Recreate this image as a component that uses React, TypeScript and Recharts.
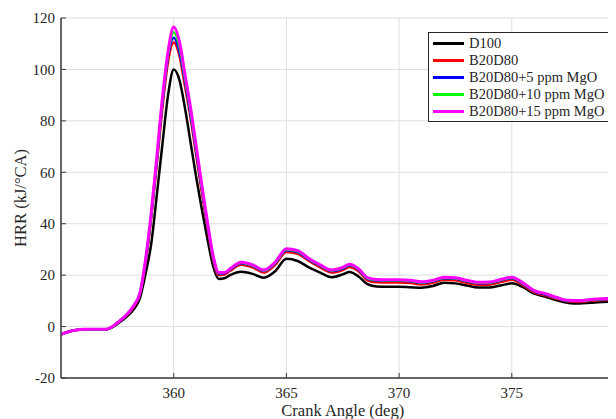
import React from 'react';
import { LineChart, Line, XAxis, YAxis, CartesianGrid, Legend } from 'recharts';

const crankAngle = [355, 355.5, 356, 356.5, 357, 357.5, 358, 358.25, 358.5, 358.75, 359, 359.25, 359.5, 359.75, 360, 360.25, 360.5, 360.75, 361, 361.25, 361.5, 361.75, 362, 362.25, 362.5, 363, 363.5, 364, 364.5, 365, 365.5, 366, 366.5, 367, 367.5, 367.8, 368.2, 368.6, 369, 369.5, 370, 370.5, 371, 371.5, 372, 372.5, 373, 373.5, 374, 374.5, 375, 375.5, 376, 376.5, 377, 377.5, 378, 378.5, 379, 379.5, 380];

const d100 = [-3, -1.6, -1.1, -1.1, -1.1, 1.0, 4.5, 7, 11, 20.5, 32, 51, 71, 90, 100, 96, 85, 71.5, 58, 45.5, 34, 23.5, 18.5, 18.8, 20, 21.3, 20.5, 19, 21.5, 26.4, 25.5, 23, 21, 19.2, 20.3, 21.2, 19.5, 16.5, 15.6, 15.5, 15.5, 15.3, 15.1, 15.8, 17, 16.8, 16, 15.2, 15.2, 16, 16.8, 15.3, 12.8, 11.6, 10.2, 9.2, 9, 9.3, 9.6, 9.7, 9.6];

const b20d80 = [-3, -1.6, -1.0, -1.0, -1.0, 1.3, 5.2, 8, 12.5, 24.5, 42, 63, 85, 103, 110.5, 105.5, 93.5, 81, 66.5, 52, 38.5, 26, 20, 20.2, 21.7, 24, 23, 21, 24, 29, 28.3, 25.5, 23, 21, 22, 23.2, 21.5, 18, 17.2, 17.1, 17.1, 16.9, 16.4, 17, 18.2, 18, 17, 16.3, 16.3, 17.3, 18.2, 16.1, 13.3, 12.1, 10.8, 9.8, 9.6, 10, 10.3, 10.4, 10.3];

const mgo5 = [-3, -1.6, -1.0, -1.0, -1.0, 1.4, 5.4, 8.3, 12.8, 25.3, 43, 64.5, 87, 105, 112.3, 107, 95.5, 82.5, 68, 53.5, 39.5, 26.8, 20.6, 20.7, 22.2, 24.6, 23.6, 21.6, 24.6, 29.7, 29, 26, 23.6, 21.6, 22.6, 23.8, 22.1, 18.6, 17.9, 17.8, 17.8, 17.6, 17, 17.6, 18.8, 18.6, 17.6, 16.8, 16.9, 17.9, 18.8, 16.6, 13.7, 12.5, 11.1, 10, 9.9, 10.3, 10.6, 10.7, 10.6];

const mgo10 = [-3, -1.6, -1.0, -1.0, -1.0, 1.45, 5.45, 8.4, 12.9, 25.6, 43.5, 65.3, 88, 106, 114.5, 109, 96.8, 83.8, 69, 54.2, 40, 27.2, 20.8, 20.9, 22.4, 24.8, 23.8, 21.8, 24.8, 30, 29.3, 26.3, 23.8, 21.8, 22.8, 24, 22.3, 18.8, 18.1, 18, 18, 17.8, 17.2, 17.8, 19, 18.8, 17.8, 17, 17.1, 18.1, 19, 16.8, 13.9, 12.7, 11.2, 10.1, 10, 10.4, 10.7, 10.8, 10.7];

const mgo15 = [-3, -1.6, -1.0, -1.0, -1.0, 1.5, 5.5, 8.5, 13, 26, 44, 66, 89, 107, 116.5, 111, 98, 85, 70, 55, 40.5, 27.5, 21, 21, 22.5, 25, 24, 22, 25, 30.3, 29.5, 26.5, 24, 22, 23, 24.2, 22.5, 19, 18.3, 18.2, 18.2, 18, 17.4, 18, 19.2, 19, 18, 17.2, 17.3, 18.3, 19.2, 17, 14, 12.8, 11.3, 10.2, 10.1, 10.5, 10.8, 10.9, 10.8];

const seriesNames = ['D100', 'B20D80', 'B20D80+5 ppm MgO', 'B20D80+10 ppm MgO', 'B20D80+15 ppm MgO'];
const seriesColors = ['#000000', '#ff0000', '#0000ff', '#00ff00', '#ff00ff'];
const seriesValues = [d100, b20d80, mgo5, mgo10, mgo15];
const seriesKeys = ['d100', 'b20d80', 'mgo5', 'mgo10', 'mgo15'];

const xTicks = [360, 365, 370, 375];
const yTicks = [-20, 0, 20, 40, 60, 80, 100, 120];

const data = crankAngle.map((x, i) => {
  const row: Record<string, number> = { x };
  seriesKeys.forEach((k, j) => {
    row[k] = seriesValues[j][i];
  });
  return row;
});

const FONT = '"Liberation Serif", "Times New Roman", serif';
const AXIS = '#3a3a3a';
const TEXT = '#262626';

const LegendBox = () => (
  <div
    style={{
      border: '1px solid #262626',
      background: '#ffffff',
      padding: '2px 4px 0 4px',
      boxSizing: 'border-box',
      width: 184,
      height: 90,
      fontFamily: FONT,
      fontSize: 14.5,
      color: TEXT,
    }}
  >
    {seriesNames.map((n, i) => (
      <div key={n} style={{ display: 'flex', alignItems: 'center', height: 17, whiteSpace: 'nowrap' }}>
        <div style={{ width: 31, height: 2.5, background: seriesColors[i], marginRight: 5 }} />
        <span>{n}</span>
      </div>
    ))}
  </div>
);

export default function App() {
  return (
    <div style={{ width: 608, height: 411, overflow: 'hidden', position: 'relative' }}>
      <LineChart
        width={630}
        height={411}
        data={data}
        margin={{ top: 10, right: 13.5, bottom: 0, left: 0 }}
      >
        <CartesianGrid stroke="#dedede" strokeWidth={1} />
        <XAxis
          dataKey="x"
          type="number"
          domain={[355, 380]}
          ticks={xTicks}
          allowDataOverflow
          height={41}
          tickSize={-5}
          tickMargin={14}
          axisLine={{ stroke: AXIS, strokeWidth: 1.5 }}
          tickLine={{ stroke: AXIS, strokeWidth: 1 }}
          tick={{ fill: TEXT, fontSize: 15, fontFamily: FONT }}
          label={{
            content: (props: any) => {
              const vb = props.viewBox || {};
              return (
                <text
                  x={vb.x + vb.width / 2}
                  y={vb.y + 38}
                  textAnchor="middle"
                  fill={TEXT}
                  fontSize={16.5}
                  fontFamily={FONT}
                >
                  Crank Angle (deg)
                </text>
              );
            },
          }}
        />
        <XAxis
          xAxisId="top"
          orientation="top"
          dataKey="x"
          type="number"
          domain={[355, 380]}
          ticks={xTicks}
          allowDataOverflow
          height={0}
          tickSize={-5}
          tickFormatter={() => ''}
          axisLine={{ stroke: AXIS, strokeWidth: 1.5 }}
          tickLine={{ stroke: AXIS, strokeWidth: 1 }}
        />
        <YAxis
          type="number"
          domain={[-20, 120]}
          ticks={yTicks}
          allowDataOverflow
          width={53}
          tickSize={-5}
          tickMargin={11}
          axisLine={{ stroke: AXIS, strokeWidth: 1.5 }}
          tickLine={{ stroke: AXIS, strokeWidth: 1 }}
          tick={{ fill: TEXT, fontSize: 15, fontFamily: FONT }}
          label={{
            content: (props: any) => {
              const vb = props.viewBox || {};
              const cx = vb.x + 18;
              const cy = vb.y + vb.height / 2;
              return (
                <text
                  x={cx}
                  y={cy}
                  transform={`rotate(-90 ${cx} ${cy})`}
                  textAnchor="middle"
                  fill={TEXT}
                  fontSize={16.5}
                  fontFamily={FONT}
                >
                  HRR (kJ/°CA)
                </text>
              );
            },
          }}
        />
        {seriesKeys.map((k, i) => (
          <Line
            key={k}
            dataKey={k}
            name={seriesNames[i]}
            type="monotone"
            stroke={seriesColors[i]}
            strokeWidth={i === 4 ? 3 : 2.5}
            dot={false}
            activeDot={false}
            isAnimationActive={false}
          />
        ))}
        <Legend
          layout="vertical"
          align="center"
          verticalAlign="middle"
          wrapperStyle={{ position: 'absolute', left: 420, top: 24, width: 184, height: 90 }}
          content={() => <LegendBox />}
        />
      </LineChart>
    </div>
  );
}
